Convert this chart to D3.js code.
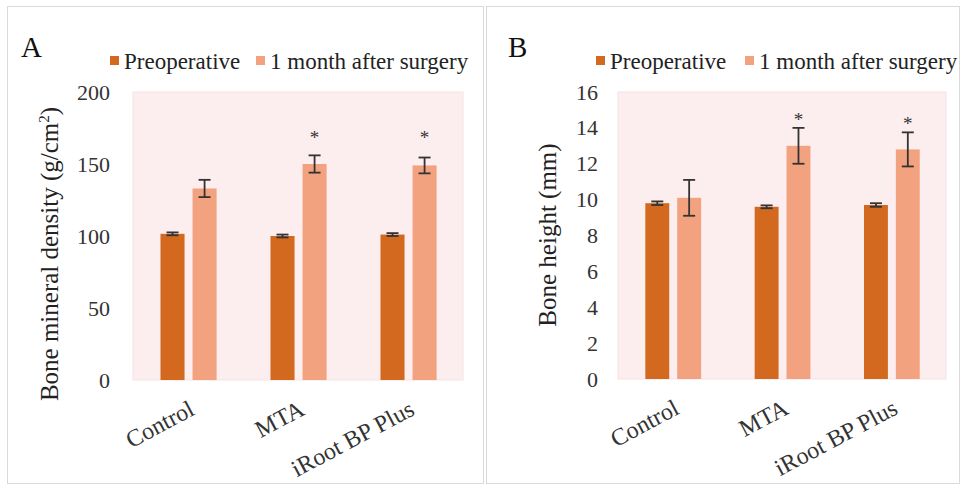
<!DOCTYPE html>
<html>
<head>
<meta charset="utf-8">
<script src="https://cdn.jsdelivr.net/npm/d3@7"></script>
<style>
  body { margin: 0; background: #fff; }
</style>
</head>
<body>
<div id="chart"></div>
<script>
// ---- data ----
var groups = ["Control", "MTA", "iRoot BP Plus"];
var seriesNames = ["Preoperative", "1 month after surgery"];

var bmdPre = [101.5, 100, 101];
var bmdPreErr = [1, 1, 1];
var bmdPost = [133, 150, 149];
var bmdPostErr = [6, 6, 5.5];
var bmdStars = [null, 170, 170];
var bmdTicks = [0, 50, 100, 150, 200];

var heightPre = [9.8, 9.6, 9.7];
var heightPreErr = [0.1, 0.08, 0.1];
var heightPost = [10.1, 13.0, 12.8];
var heightPostErr = [1.0, 1.0, 0.95];
var heightStars = [null, 14.6, 14.4];
var heightTicks = [0, 2, 4, 6, 8, 10, 12, 14, 16];

var colors = ["#D2691F", "#F3A27F"];
var serif = "'Liberation Serif', 'Times New Roman', serif";

var W = 962, H = 486;

var svg = d3.select("#chart").append("svg")
    .attr("width", W)
    .attr("height", H);

function drawPanel(opt) {
    var clipId = "clip" + opt.letter;
    svg.append("clipPath").attr("id", clipId)
        .append("rect")
        .attr("x", opt.box[0]).attr("y", opt.box[1])
        .attr("width", opt.box[2]).attr("height", opt.box[3]);

    var g = svg.append("g").attr("clip-path", "url(#" + clipId + ")");

    // panel frame
    g.append("rect")
        .attr("x", opt.box[0] + 0.5).attr("y", opt.box[1] + 0.5)
        .attr("width", opt.box[2] - 1).attr("height", opt.box[3] - 1)
        .attr("fill", "#fff")
        .attr("stroke", "#d9d9d9");

    var x0 = d3.scaleBand()
        .domain(groups)
        .range([opt.left, opt.right]);

    var x1 = d3.scaleBand()
        .domain(seriesNames)
        .range([x0.bandwidth() * 0.25, x0.bandwidth() * 0.76])
        .paddingInner(0.25);

    var y = d3.scaleLinear()
        .domain(opt.domain)
        .range([opt.bottom, opt.top]);

    // plot area
    g.append("rect")
        .attr("x", opt.left).attr("y", opt.top)
        .attr("width", opt.right - opt.left)
        .attr("height", opt.bottom - opt.top)
        .attr("fill", "#FCEDEF")
        .attr("stroke", "#f6e2e4");

    // y axis labels only
    var yAxis = d3.axisLeft(y)
        .tickValues(opt.ticks)
        .tickSize(0)
        .tickPadding(0);
    var ya = g.append("g")
        .attr("transform", "translate(" + opt.tickX + ",0)")
        .call(yAxis);
    ya.select(".domain").remove();
    ya.selectAll("text")
        .style("font-family", serif)
        .style("font-size", "22px")
        .attr("fill", "#333");

    // bars
    var rows = groups.map(function(name, i) {
        return [
            { group: name, key: seriesNames[0], v: opt.pre[i], e: opt.preErr[i] },
            { group: name, key: seriesNames[1], v: opt.post[i], e: opt.postErr[i] }
        ];
    });

    var gg = g.append("g").selectAll("g")
        .data(rows)
        .enter().append("g")
        .attr("transform", function(d) { return "translate(" + x0(d[0].group) + ",0)"; });

    gg.selectAll("rect")
        .data(function(d) { return d; })
        .enter().append("rect")
        .attr("x", function(d) { return x1(d.key); })
        .attr("y", function(d) { return y(d.v); })
        .attr("width", x1.bandwidth())
        .attr("height", function(d) { return y(0) - y(d.v); })
        .attr("fill", function(d, i) { return colors[i]; });

    // error bars
    var eb = gg.selectAll("g.err")
        .data(function(d) { return d; })
        .enter().append("g")
        .attr("class", "err")
        .attr("stroke", "#333")
        .attr("stroke-width", 1.8);
    var cx = function(d) { return x1(d.key) + x1.bandwidth() / 2; };
    eb.append("line")
        .attr("x1", cx).attr("x2", cx)
        .attr("y1", function(d) { return y(d.v + d.e); })
        .attr("y2", function(d) { return y(d.v - d.e); });
    eb.append("line")
        .attr("x1", function(d) { return cx(d) - 6; })
        .attr("x2", function(d) { return cx(d) + 6; })
        .attr("y1", function(d) { return y(d.v + d.e); })
        .attr("y2", function(d) { return y(d.v + d.e); });
    eb.append("line")
        .attr("x1", function(d) { return cx(d) - 6; })
        .attr("x2", function(d) { return cx(d) + 6; })
        .attr("y1", function(d) { return y(d.v - d.e); })
        .attr("y2", function(d) { return y(d.v - d.e); });

    // significance stars
    g.append("g").selectAll("text")
        .data(groups.map(function(name, i) { return { group: name, s: opt.stars[i] }; })
            .filter(function(d) { return d.s != null; }))
        .enter().append("text")
        .attr("x", function(d) { return x0(d.group) + x1(seriesNames[1]) + x1.bandwidth() / 2; })
        .attr("y", function(d) { return y(d.s) + 9; })
        .attr("text-anchor", "middle")
        .style("font-family", serif)
        .style("font-size", "19px")
        .attr("fill", "#333")
        .text("*");

    // x labels, rotated
    g.append("g").selectAll("text")
        .data(groups)
        .enter().append("text")
        .attr("transform", function(d) {
            return "translate(" + (x0(d) + x0.bandwidth() / 2 + 8) + "," + (opt.bottom + 34) + ") rotate(-28)";
        })
        .attr("text-anchor", "end")
        .style("font-family", serif)
        .style("font-size", "24px")
        .attr("fill", "#333")
        .text(function(d) { return d; });

    // y title
    var yt = g.append("text")
        .attr("transform", "translate(" + opt.titleX + "," + opt.titleY + ") rotate(-90)")
        .attr("text-anchor", "middle")
        .style("font-family", serif)
        .style("font-size", "25px")
        .attr("fill", "#222");
    yt.append("tspan").text(opt.yTitle[0]);
    if (opt.yTitle.length > 1) {
        yt.append("tspan").attr("dy", -9).style("font-size", "15px").text(opt.yTitle[1]);
        yt.append("tspan").attr("dy", 9).text(opt.yTitle[2]);
    }

    // panel letter
    g.append("text")
        .attr("x", opt.letterX).attr("y", 57)
        .style("font-family", serif)
        .style("font-size", "29px")
        .attr("fill", "#111")
        .text(opt.letter);

    // legend
    var lg = g.append("g").selectAll("g")
        .data(seriesNames)
        .enter().append("g")
        .attr("transform", function(d, i) { return "translate(" + opt.legendX[i] + ",0)"; });
    lg.append("rect")
        .attr("x", 0).attr("y", 56)
        .attr("width", 9).attr("height", 9)
        .attr("fill", function(d, i) { return colors[i]; });
    lg.append("text")
        .attr("x", 14).attr("y", 69)
        .style("font-family", serif)
        .style("font-size", "23px")
        .attr("fill", "#222")
        .text(function(d) { return d; });
}

drawPanel({
    letter: "A", letterX: 21,
    box: [7, 6, 477, 478],
    left: 133, right: 463, top: 92, bottom: 380,
    domain: [0, 200], ticks: bmdTicks, tickX: 110,
    pre: bmdPre, preErr: bmdPreErr, post: bmdPost, postErr: bmdPostErr, stars: bmdStars,
    yTitle: ["Bone mineral density (g/cm", "2", ")"],
    titleX: 58, titleY: 254,
    legendX: [110, 256]
});

drawPanel({
    letter: "B", letterX: 508,
    box: [486, 6, 474, 478],
    left: 618, right: 946, top: 92, bottom: 379,
    domain: [0, 16], ticks: heightTicks, tickX: 598,
    pre: heightPre, preErr: heightPreErr, post: heightPost, postErr: heightPostErr, stars: heightStars,
    yTitle: ["Bone height (mm)"],
    titleX: 556, titleY: 235,
    legendX: [596, 745]
});
</script>
</body>
</html>
